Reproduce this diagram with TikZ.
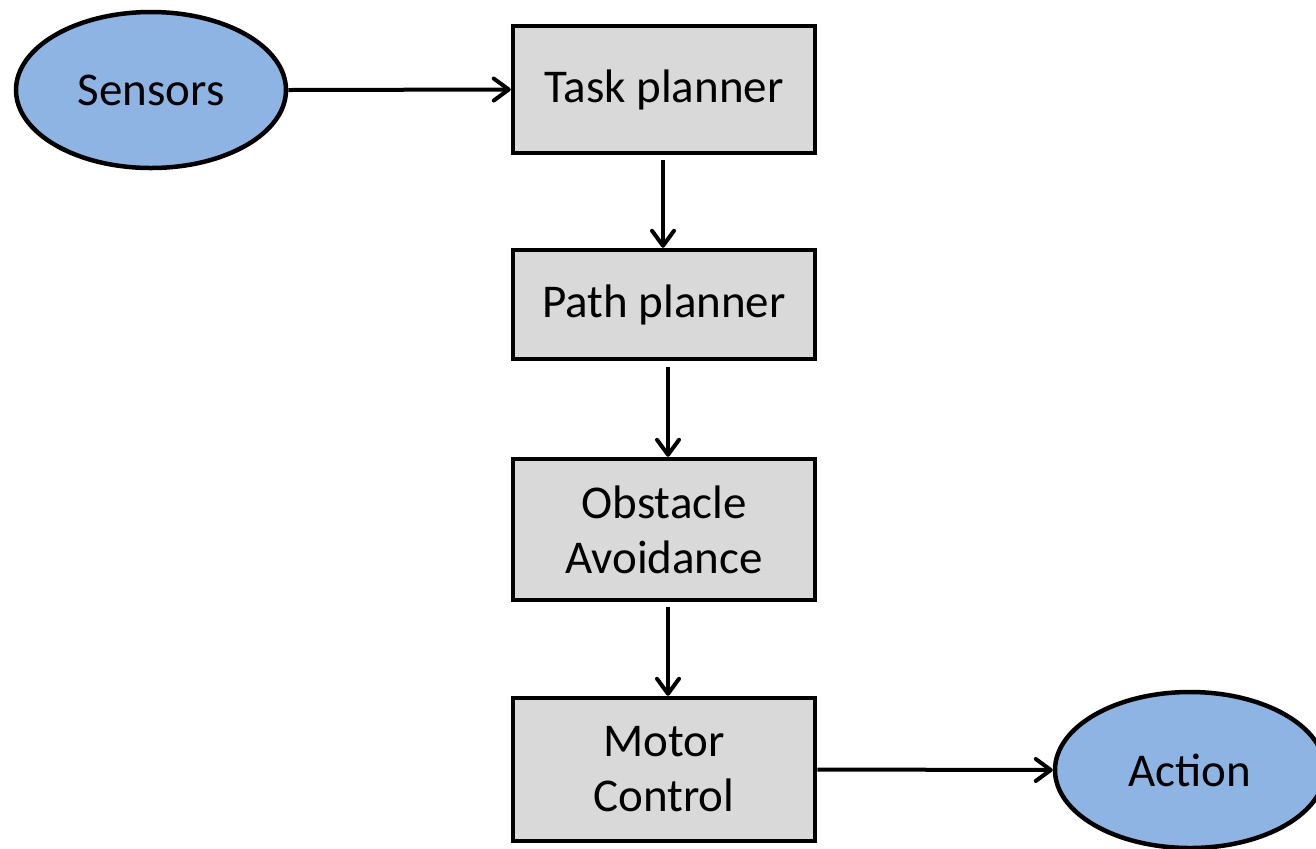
\documentclass[tikz,border=0pt]{standalone}
\usepackage{fontspec}
\setmainfont{Carlito}
\usetikzlibrary{shapes.geometric,arrows.meta,positioning}
\definecolor{ovalblue}{HTML}{8EB4E3}
\definecolor{boxgray}{HTML}{D9D9D9}
\tikzset{
  stage/.style={draw=black, line width=2.25pt, fill=boxgray, rectangle,
    minimum width=151pt, inner sep=0pt, align=center,
    font=\fontsize{23.5pt}{27.5pt}\selectfont},
  oval/.style={draw=black, line width=2.25pt, fill=ovalblue, ellipse,
    minimum width=135pt, minimum height=78pt, inner sep=0pt,
    font=\fontsize{23.5pt}{27.5pt}\selectfont},
  flow/.style={line width=2pt, -{Straight Barb[length=7.5pt,width=11pt,line width=2pt,round]}},
}
\begin{document}
\begin{tikzpicture}[x=0.5pt, y=-0.5pt]
  \useasboundingbox (0,0) rectangle (1316,848);
  % sources and sinks
  \node[oval] (sensors) at (151,90) {Sensors};
  \node[oval] (action) at (1190,770) {Action};
  % processing chain
  \node[stage, minimum height=63.5pt] (task) at (664,89.5) {Task planner};
  \node[stage, minimum height=54.5pt] (path) at (664,304.5) {Path planner};
  \node[stage, minimum height=70.5pt] (obst) at (664,529.5) {Obstacle\\Avoidance};
  \node[stage, minimum height=71.5pt] (motor) at (664,769.5) {Motor\\Control};
  % connectors
  \draw[flow] (sensors.east) -- (task.west);
  \draw[flow, shorten <=2.5pt] ([xshift=-0.5pt]task.south) -- ([xshift=-0.5pt]path.north);
  \draw[flow, shorten <=3pt] ([xshift=2pt]path.south) -- ([xshift=2pt]obst.north);
  \draw[flow, shorten <=2.5pt] ([xshift=2pt]obst.south) -- ([xshift=2pt]motor.north);
  \draw[flow] (motor.east) -- (action.west);
\end{tikzpicture}
\end{document}
